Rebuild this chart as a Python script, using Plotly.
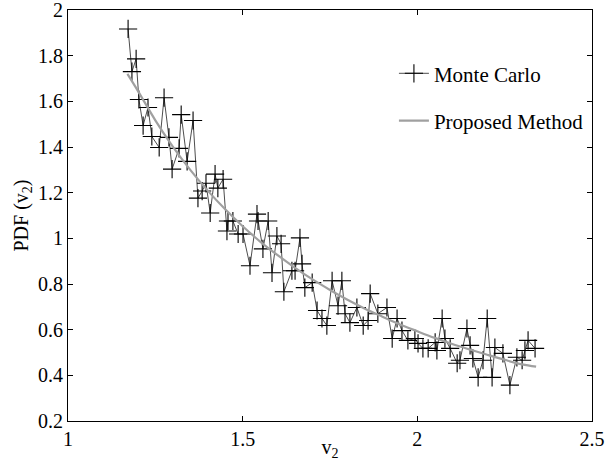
import plotly.graph_objects as go

# Monte Carlo samples
mc_x = [1.172, 1.183, 1.195, 1.203, 1.215, 1.229, 1.240, 1.261, 1.275, 1.289,
        1.298, 1.318, 1.324, 1.341, 1.358, 1.372, 1.384, 1.395, 1.407, 1.421,
        1.429, 1.444, 1.455, 1.458, 1.472, 1.487, 1.501, 1.521, 1.541, 1.544,
        1.558, 1.573, 1.584, 1.598, 1.610, 1.618, 1.641, 1.650, 1.664, 1.670,
        1.678, 1.699, 1.713, 1.727, 1.741, 1.756, 1.773, 1.784, 1.793, 1.807,
        1.827, 1.845, 1.859, 1.865, 1.887, 1.913, 1.928, 1.942, 1.956, 1.973,
        1.993, 2.002, 2.016, 2.031, 2.051, 2.056, 2.071, 2.079, 2.094, 2.114,
        2.122, 2.142, 2.151, 2.159, 2.174, 2.188, 2.200, 2.214, 2.222, 2.245,
        2.265, 2.285, 2.300, 2.308, 2.317, 2.337]
mc_y = [1.917, 1.730, 1.786, 1.608, 1.494, 1.573, 1.446, 1.398, 1.616, 1.442,
        1.303, 1.394, 1.542, 1.337, 1.516, 1.176, 1.207, 1.241, 1.111, 1.281,
        1.220, 1.259, 1.032, 1.076, 1.076, 1.019, 1.019, 0.880, 1.106, 1.076,
        0.954, 1.076, 0.849, 1.010, 0.976, 0.766, 0.858, 0.858, 1.002, 0.888,
        0.784, 0.806, 0.684, 0.649, 0.618, 0.814, 0.705, 0.814, 0.670, 0.631,
        0.697, 0.618, 0.640, 0.758, 0.670, 0.697, 0.561, 0.649, 0.596, 0.553,
        0.561, 0.540, 0.518, 0.518, 0.544, 0.509, 0.649, 0.561, 0.518, 0.453,
        0.466, 0.605, 0.531, 0.474, 0.391, 0.466, 0.649, 0.391, 0.522, 0.496,
        0.357, 0.479, 0.466, 0.509, 0.553, 0.518]

# Proposed method curve
pm_x = [1.17, 1.20, 1.25, 1.30, 1.35, 1.40, 1.45, 1.50, 1.55, 1.60, 1.65, 1.70,
        1.75, 1.80, 1.85, 1.90, 1.95, 2.00, 2.05, 2.10, 2.15, 2.20, 2.25, 2.30, 2.34]
pm_y = [1.72, 1.646, 1.517, 1.402, 1.300, 1.209, 1.127, 1.053, 0.986, 0.926,
        0.871, 0.820, 0.774, 0.731, 0.692, 0.657, 0.623, 0.593, 0.564, 0.537,
        0.513, 0.490, 0.468, 0.448, 0.438]

# Tick labels
x_ticks = [1, 1.5, 2, 2.5]
x_labels = ["1", "1.5", "2", "2.5"]
y_ticks = [0.2, 0.4, 0.6, 0.8, 1.0, 1.2, 1.4, 1.6, 1.8, 2.0]
y_labels = ["0.2", "0.4", "0.6", "0.8", "1", "1.2", "1.4", "1.6", "1.8", "2"]

font_fam = "Liberation Serif, Times New Roman, serif"

fig = go.Figure()
fig.add_trace(go.Scatter(
    x=mc_x, y=mc_y, mode="lines+markers", name="Monte Carlo",
    line=dict(color="black", width=0.7),
    marker=dict(symbol="cross-thin-open", size=13, color="black",
                line=dict(color="black", width=1.1)),
    legendgroup="a"))
fig.add_trace(go.Scatter(
    x=pm_x, y=pm_y, mode="lines", name="Proposed Method",
    line=dict(color="#a0a0a0", width=2.2, shape="spline"),
    legendgroup="b"))

axis_common = dict(showline=True, linecolor="black", linewidth=1, mirror="ticks",
                   ticks="inside", ticklen=5, tickcolor="black", showgrid=False,
                   zeroline=False, ticklabeloverflow="allow", automargin=False,
                   tickfont=dict(family=font_fam, size=20, color="black"))

fig.update_layout(
    width=613, height=461,
    margin=dict(l=68, r=21, t=10, b=40),
    plot_bgcolor="white", paper_bgcolor="white",
    font=dict(family=font_fam, color="black"),
    xaxis=dict(range=[1, 2.5], tickmode="array", tickvals=x_ticks, ticktext=x_labels,
               title=dict(text="v<sub>2</sub>", font=dict(family=font_fam, size=20), standoff=0),
               **axis_common),
    yaxis=dict(range=[0.2, 2], tickmode="array", tickvals=y_ticks, ticktext=y_labels,
               title=dict(text="PDF (v<sub>2</sub>)", font=dict(family=font_fam, size=20), standoff=4),
               **axis_common),
    legend=dict(x=0.622, y=0.895, xanchor="left", yanchor="top",
                bgcolor="rgba(0,0,0,0)", borderwidth=0,
                font=dict(family=font_fam, size=21, color="black"),
                tracegroupgap=17),
    showlegend=True,
)

fig.write_html("out.html")
